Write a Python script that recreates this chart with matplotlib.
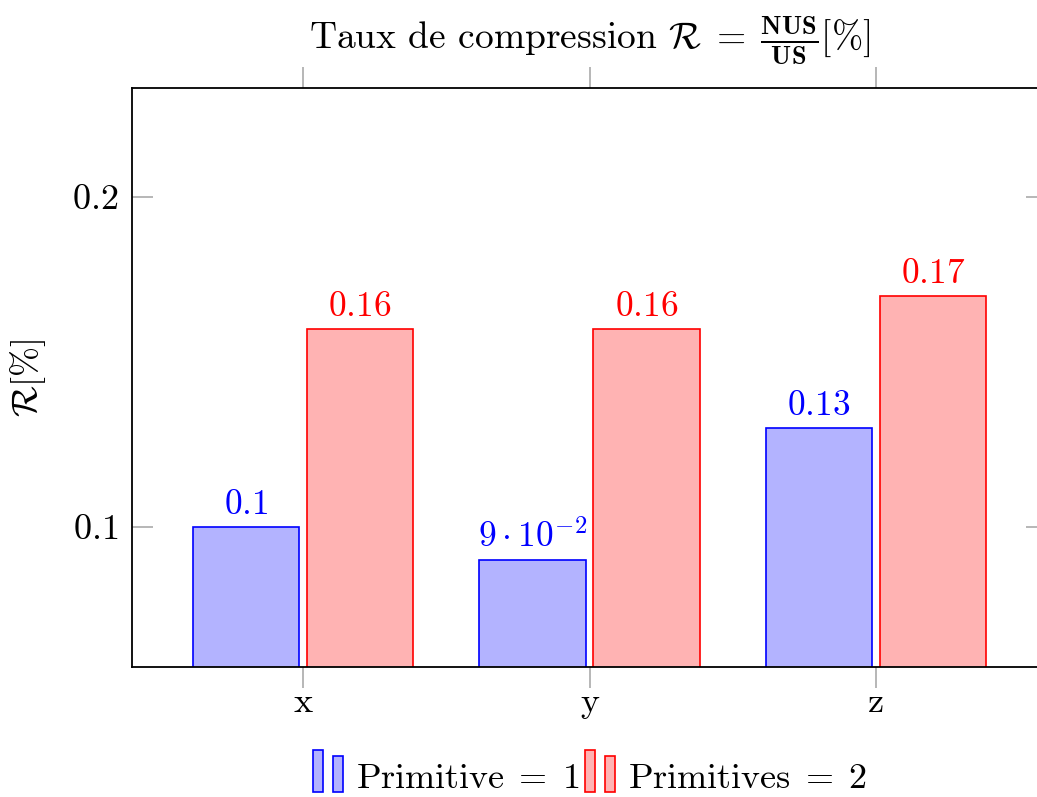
import matplotlib
matplotlib.use("Agg")
import matplotlib.pyplot as plt
from matplotlib.patches import Rectangle
from matplotlib.legend_handler import HandlerBase
import numpy as np

plt.rcParams['font.family'] = 'serif'
plt.rcParams['font.serif'] = ['cmr10']
plt.rcParams['mathtext.fontset'] = 'cm'
plt.rcParams['axes.unicode_minus'] = False

categories = ['x', 'y', 'z']
prim1 = [0.10, 0.09, 0.13]
prim2 = [0.16, 0.16, 0.17]
prim1_labels = [r'$0.1$', r'$9\cdot10^{-2}$', r'$0.13$']
prim2_labels = [r'$0.16$', r'$0.16$', r'$0.17$']
series_names = [r'Primitive$\;=\;1$', r'Primitives$\;=\;2$']
yticks = [0.1, 0.2]

blue_fill = (0.7, 0.7, 1.0)
red_fill = (1.0, 0.7, 0.7)


class TwoBars(HandlerBase):
    # pgfplots-style ybar legend image: two small bars
    def create_artists(self, legend, orig, xd, yd, w, h, fontsize, trans):
        fc = orig.get_facecolor()
        ec = orig.get_edgecolor()
        bw = 0.27 * w
        r1 = Rectangle((xd, yd - 0.2 * h), bw, 1.4 * h, fc=fc, ec=ec, lw=1.2, transform=trans)
        r2 = Rectangle((xd + 0.52 * w, yd - 0.2 * h), bw, 1.2 * h, fc=fc, ec=ec, lw=1.2, transform=trans)
        return [r1, r2]


fig = plt.figure(figsize=(10.37, 7.97), dpi=100)
ax = fig.add_axes([132 / 1037, 1 - 667 / 797, 915 / 1037, 579 / 797])

x = np.arange(len(categories))
w = 0.373
off = 0.199
b1 = ax.bar(x - off, prim1, w, color=blue_fill, edgecolor='blue', lw=1.2, zorder=2)
b2 = ax.bar(x + off, prim2, w, color=red_fill, edgecolor='red', lw=1.2, zorder=2)

for xi, v, lab in zip(x, prim1, prim1_labels):
    ax.text(xi - off, v + 0.0018, lab, color='blue', ha='center', va='bottom', fontsize=25.5)
for xi, v, lab in zip(x, prim2, prim2_labels):
    ax.text(xi + off, v + 0.0018, lab, color='red', ha='center', va='bottom', fontsize=25.5)

ax.set_xlim(-0.597, 2.597)
ax.set_ylim(0.05758, 0.23303)
ax.set_xticks(x)
ax.set_xticklabels(categories, fontsize=26)
ax.set_yticks(yticks)
ax.set_yticklabels(['$0.1$', '$0.2$'], fontsize=26)

ax.tick_params(axis='x', direction='out', top=True, bottom=True, length=15, width=1.2,
               color='#aaaaaa', pad=0)
ax.tick_params(axis='y', direction='in', left=True, right=True, length=15, width=1.2,
               color='#aaaaaa', pad=10)
for s in ax.spines.values():
    s.set_linewidth(1.3)

ax.set_ylabel(r'$\mathcal{R}[\%]$', fontsize=26)
ax.yaxis.set_label_coords(-0.092, 0.5)
ax.set_title(r'Taux de compression $\mathcal{R}\;=\;\frac{\mathbf{NUS}}{\mathbf{US}}[\%]$',
             fontsize=27, pad=28)

fig.legend([b1[0], b2[0]], series_names, loc='center', bbox_to_anchor=(590 / 1037, 1 - 778 / 797),
           ncol=2, frameon=False, fontsize=26, handler_map={b1[0]: TwoBars(), b2[0]: TwoBars()},
           handlelength=1.05, handleheight=0.9, handletextpad=0.15, columnspacing=0.15)

fig.savefig('out.png', dpi=100)
